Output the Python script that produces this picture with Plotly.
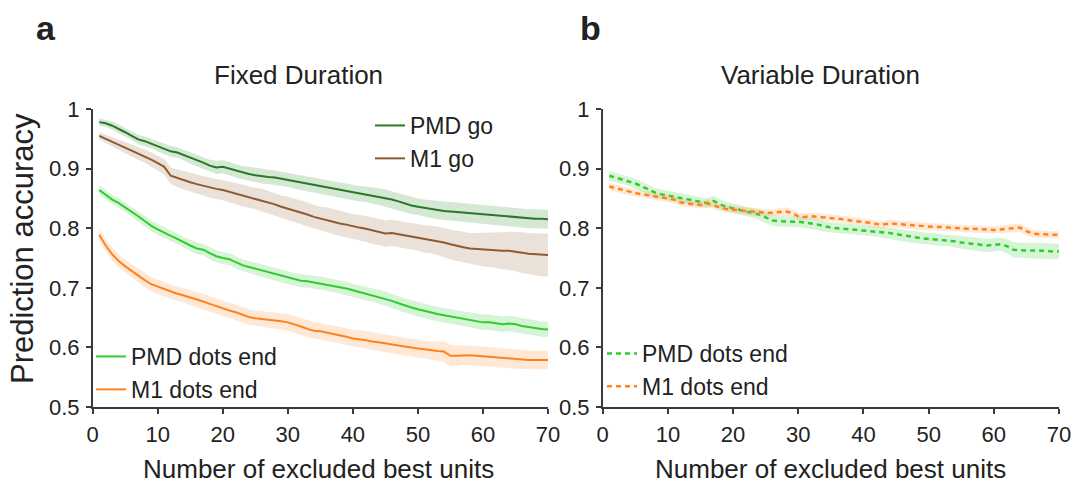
import plotly.graph_objects as go

W, H = 1074, 489

units = list(range(1, 71))

# ---- Panel a: Fixed Duration ----
pmd_go = [0.978,0.976,0.972,0.967,0.961,0.955,0.949,0.946,0.942,0.937,
          0.933,0.929,0.927,0.923,0.918,0.914,0.910,0.905,0.902,0.903,
          0.900,0.896,0.893,0.891,0.889,0.887,0.886,0.885,0.883,0.881,
          0.878,0.876,0.874,0.872,0.870,0.868,0.866,0.864,0.862,0.860,
          0.858,0.857,0.855,0.853,0.851,0.848,0.845,0.841,0.838,0.836,
          0.834,0.832,0.830,0.829,0.828,0.827,0.826,0.825,0.824,0.823,
          0.822,0.821,0.820,0.819,0.818,0.817,0.816,0.816,0.816,0.815]
pmd_go_err = [0.006,0.006,0.007,0.007,0.007,0.007,0.008,0.008,0.008,0.008,
              0.009,0.009,0.009,0.009,0.010,0.010,0.010,0.010,0.011,0.011,
              0.011,0.011,0.011,0.012,0.012,0.012,0.012,0.012,0.012,0.012,
              0.012,0.013,0.013,0.013,0.013,0.013,0.013,0.013,0.013,0.013,
              0.013,0.013,0.014,0.014,0.014,0.014,0.014,0.014,0.014,0.014,
              0.014,0.015,0.015,0.015,0.015,0.015,0.015,0.015,0.015,0.015,
              0.015,0.015,0.015,0.015,0.015,0.016,0.016,0.016,0.016,0.016]

m1_go = [0.955,0.950,0.945,0.940,0.935,0.930,0.926,0.921,0.915,0.909,
         0.903,0.888,0.884,0.880,0.877,0.874,0.871,0.868,0.866,0.864,
         0.861,0.858,0.855,0.852,0.850,0.847,0.843,0.840,0.836,0.833,
         0.830,0.827,0.823,0.819,0.816,0.814,0.811,0.808,0.806,0.803,
         0.801,0.799,0.796,0.793,0.791,0.792,0.790,0.788,0.786,0.784,
         0.782,0.781,0.779,0.776,0.773,0.770,0.768,0.766,0.765,0.764,
         0.764,0.763,0.762,0.762,0.761,0.759,0.757,0.756,0.755,0.755]
m1_go_err = [0.006,0.007,0.008,0.009,0.010,0.010,0.011,0.011,0.012,0.012,
             0.013,0.014,0.015,0.015,0.016,0.016,0.016,0.017,0.017,0.017,
             0.017,0.018,0.018,0.018,0.018,0.019,0.019,0.019,0.019,0.020,
             0.020,0.020,0.020,0.020,0.020,0.021,0.021,0.021,0.021,0.021,
             0.021,0.022,0.022,0.022,0.022,0.022,0.022,0.022,0.022,0.022,
             0.023,0.023,0.024,0.024,0.025,0.025,0.026,0.026,0.027,0.028,
             0.029,0.030,0.031,0.032,0.033,0.034,0.035,0.035,0.036,0.036]

pmd_dots = [0.864,0.856,0.848,0.842,0.835,0.827,0.820,0.812,0.804,0.798,
            0.792,0.787,0.782,0.776,0.771,0.766,0.764,0.758,0.753,0.750,
            0.748,0.743,0.738,0.735,0.732,0.729,0.726,0.723,0.720,0.717,
            0.714,0.712,0.711,0.709,0.708,0.706,0.704,0.701,0.699,0.696,
            0.693,0.690,0.688,0.685,0.682,0.678,0.674,0.670,0.667,0.664,
            0.661,0.659,0.656,0.654,0.652,0.650,0.648,0.646,0.644,0.642,
            0.642,0.641,0.639,0.640,0.639,0.636,0.634,0.633,0.631,0.630]
pmd_dots_err = [0.008,0.008,0.008,0.008,0.008,0.008,0.008,0.009,0.009,0.009,
                0.009,0.009,0.009,0.009,0.010,0.010,0.010,0.010,0.010,0.010,
                0.010,0.010,0.010,0.010,0.010,0.010,0.010,0.011,0.011,0.011,
                0.011,0.011,0.011,0.011,0.011,0.011,0.011,0.011,0.011,0.011,
                0.011,0.011,0.011,0.012,0.012,0.012,0.012,0.012,0.012,0.012,
                0.012,0.012,0.012,0.012,0.012,0.012,0.013,0.013,0.013,0.013,
                0.013,0.013,0.013,0.013,0.013,0.013,0.013,0.013,0.013,0.013]

m1_dots = [0.789,0.771,0.756,0.745,0.736,0.728,0.721,0.713,0.706,0.702,
           0.697,0.693,0.690,0.687,0.684,0.681,0.677,0.673,0.669,0.666,
           0.662,0.659,0.655,0.651,0.649,0.648,0.646,0.645,0.644,0.642,
           0.639,0.635,0.631,0.628,0.627,0.625,0.623,0.621,0.618,0.615,
           0.614,0.612,0.610,0.609,0.607,0.605,0.603,0.601,0.600,0.598,
           0.597,0.595,0.594,0.593,0.586,0.586,0.587,0.587,0.586,0.585,
           0.584,0.583,0.582,0.581,0.580,0.580,0.579,0.579,0.579,0.579]
m1_dots_err = [0.010,0.010,0.011,0.011,0.011,0.011,0.012,0.012,0.012,0.012,
               0.012,0.012,0.012,0.012,0.012,0.013,0.013,0.013,0.013,0.013,
               0.013,0.013,0.013,0.013,0.013,0.013,0.013,0.014,0.014,0.014,
               0.014,0.014,0.014,0.014,0.014,0.014,0.014,0.014,0.014,0.014,
               0.015,0.015,0.015,0.015,0.015,0.015,0.015,0.015,0.015,0.015,
               0.015,0.015,0.016,0.017,0.018,0.017,0.016,0.016,0.016,0.016,
               0.016,0.016,0.016,0.016,0.016,0.016,0.016,0.016,0.016,0.016]

# ---- Panel b: Variable Duration ----
pmd_dots_var = [0.888,0.885,0.882,0.879,0.875,0.870,0.865,0.860,0.857,0.855,
                0.852,0.850,0.848,0.846,0.844,0.842,0.846,0.840,0.836,0.834,
                0.831,0.828,0.826,0.823,0.818,0.813,0.812,0.811,0.811,0.811,
                0.810,0.808,0.806,0.803,0.801,0.800,0.799,0.798,0.797,0.797,
                0.796,0.795,0.794,0.792,0.790,0.788,0.786,0.785,0.783,0.782,
                0.781,0.780,0.780,0.778,0.776,0.775,0.774,0.772,0.771,0.772,
                0.773,0.770,0.764,0.763,0.763,0.762,0.762,0.762,0.761,0.761]
pmd_dots_var_err = [0.008,0.008,0.008,0.008,0.008,0.008,0.008,0.008,0.008,0.008,
                    0.008,0.008,0.008,0.008,0.008,0.008,0.009,0.008,0.008,0.008,
                    0.008,0.008,0.008,0.009,0.009,0.009,0.009,0.009,0.009,0.009,
                    0.009,0.009,0.009,0.009,0.009,0.009,0.009,0.009,0.009,0.009,
                    0.009,0.009,0.009,0.010,0.010,0.010,0.010,0.010,0.010,0.010,
                    0.010,0.010,0.010,0.010,0.011,0.011,0.011,0.011,0.011,0.011,
                    0.011,0.012,0.013,0.013,0.013,0.013,0.013,0.013,0.013,0.013]

m1_dots_var = [0.870,0.867,0.864,0.861,0.859,0.857,0.855,0.853,0.852,0.850,
               0.848,0.843,0.841,0.840,0.839,0.842,0.838,0.835,0.832,0.831,
               0.830,0.829,0.827,0.826,0.826,0.826,0.827,0.828,0.826,0.820,
               0.819,0.820,0.819,0.818,0.818,0.817,0.815,0.813,0.812,0.811,
               0.809,0.807,0.806,0.808,0.807,0.806,0.805,0.804,0.803,0.803,
               0.802,0.802,0.801,0.800,0.800,0.799,0.799,0.798,0.798,0.797,
               0.798,0.799,0.800,0.801,0.795,0.791,0.790,0.789,0.789,0.789]
m1_dots_var_err = [0.006,0.006,0.006,0.006,0.006,0.006,0.006,0.006,0.006,0.006,
                   0.006,0.006,0.006,0.006,0.006,0.007,0.006,0.006,0.006,0.006,
                   0.006,0.006,0.006,0.006,0.006,0.006,0.006,0.007,0.006,0.006,
                   0.006,0.006,0.006,0.006,0.006,0.006,0.006,0.006,0.006,0.006,
                   0.006,0.006,0.006,0.006,0.006,0.006,0.006,0.006,0.006,0.006,
                   0.006,0.006,0.006,0.006,0.006,0.006,0.006,0.006,0.006,0.006,
                   0.006,0.006,0.007,0.007,0.007,0.006,0.006,0.006,0.006,0.006]

x_ticks = [0, 10, 20, 30, 40, 50, 60, 70]
y_ticks = [0.5, 0.6, 0.7, 0.8, 0.9, 1.0]
y_tick_text = ["0.5", "0.6", "0.7", "0.8", "0.9", "1"]

C_PMD_GO = "rgb(40,120,40)"
C_M1_GO = "rgb(145,90,45)"
C_PMD_DOTS = "rgb(45,205,45)"
C_M1_DOTS = "rgb(255,130,30)"
F_PMD_GO = "rgba(60,150,60,0.22)"
F_M1_GO = "rgba(150,105,65,0.2)"
F_PMD_DOTS = "rgba(70,210,70,0.22)"
F_M1_DOTS = "rgba(255,150,70,0.22)"

FONT = "Liberation Sans, Arial, Helvetica, sans-serif"

fig = go.Figure()


def add_series(name, y, err, color, fill, xa, ya, legend, dash="solid", width=2):
    upper = [v + e for v, e in zip(y, err)]
    lower = [v - e for v, e in zip(y, err)]
    fig.add_trace(go.Scatter(
        x=units + units[::-1], y=upper + lower[::-1], fill="toself",
        fillcolor=fill, line=dict(width=0), mode="lines",
        hoverinfo="skip", showlegend=False, xaxis=xa, yaxis=ya))
    fig.add_trace(go.Scatter(
        x=units, y=y, mode="lines", name=name,
        line=dict(color=color, width=width, dash=dash),
        xaxis=xa, yaxis=ya, legend=legend, legendgroup=name + xa))


add_series("PMD go", pmd_go, pmd_go_err, C_PMD_GO, F_PMD_GO, "x", "y", "legend")
add_series("M1 go", m1_go, m1_go_err, C_M1_GO, F_M1_GO, "x", "y", "legend")
add_series("PMD dots end", pmd_dots, pmd_dots_err, C_PMD_DOTS, F_PMD_DOTS, "x", "y", "legend2")
add_series("M1 dots end", m1_dots, m1_dots_err, C_M1_DOTS, F_M1_DOTS, "x", "y", "legend2")
add_series("PMD dots end", pmd_dots_var, pmd_dots_var_err, C_PMD_DOTS, F_PMD_DOTS, "x2", "y2", "legend3", dash="5px,4px", width=2.5)
add_series("M1 dots end", m1_dots_var, m1_dots_var_err, C_M1_DOTS, F_M1_DOTS, "x2", "y2", "legend3", dash="5px,4px", width=2.5)

def px(x):
    return x / W

def py(y):
    return 1 - y / H

ydom = [py(407), py(109)]
axis_common = dict(
    showline=True, linecolor="#3a3a3a", linewidth=1.5,
    ticks="outside", ticklen=5, tickwidth=1.5, tickcolor="#3a3a3a",
    showgrid=False, zeroline=False, automargin=False,
    tickfont=dict(family=FONT, size=22, color="#222"),
)

LEG_FONT = dict(family=FONT, size=23, color="#222")

fig.update_layout(
    width=W, height=H,
    margin=dict(l=0, r=0, t=0, b=0, pad=0),
    paper_bgcolor="white", plot_bgcolor="white",
    font=dict(family=FONT, color="#222"),
    xaxis=dict(domain=[px(92.7), px(548)], range=[0, 70], tickvals=x_ticks,
               anchor="y", ticklabelstandoff=2, **axis_common),
    yaxis=dict(domain=ydom, range=[0.5, 1.0], tickvals=y_ticks, ticktext=y_tick_text,
               anchor="x", ticklabelstandoff=2, **axis_common),
    xaxis2=dict(domain=[px(602.7), px(1059)], range=[0, 70], tickvals=x_ticks,
                anchor="y2", ticklabelstandoff=2, **axis_common),
    yaxis2=dict(domain=ydom, range=[0.5, 1.0], tickvals=y_ticks, ticktext=y_tick_text,
                anchor="x2", ticklabelstandoff=2, **axis_common),
    legend=dict(x=px(370), y=py(104), xanchor="left", yanchor="top",
                bgcolor="rgba(0,0,0,0)", font=LEG_FONT,
                tracegroupgap=0, itemwidth=30),
    legend2=dict(x=px(91), y=py(335), xanchor="left", yanchor="top",
                 bgcolor="rgba(0,0,0,0)", font=LEG_FONT,
                 tracegroupgap=0, itemwidth=30),
    legend3=dict(x=px(602), y=py(332), xanchor="left", yanchor="top",
                 bgcolor="rgba(0,0,0,0)", font=LEG_FONT,
                 tracegroupgap=0, itemwidth=30),
    showlegend=True,
)

annos = [
    dict(text="<b>a</b>", x=px(46), y=py(28), size=34),
    dict(text="<b>b</b>", x=px(590), y=py(28), size=34),
    dict(text="Fixed Duration", x=px(298), y=py(75), size=26),
    dict(text="Variable Duration", x=px(820), y=py(75), size=26),
    dict(text="Number of excluded best units", x=px(318), y=py(469), size=26),
    dict(text="Number of excluded best units", x=px(830), y=py(469), size=26),
]
for a in annos:
    fig.add_annotation(text=a["text"], x=a["x"], y=a["y"], xref="paper", yref="paper",
                       showarrow=False, xanchor="center", yanchor="middle",
                       font=dict(family=FONT, size=a["size"], color="#222"))
fig.add_annotation(text="Prediction accuracy", x=px(23), y=py(249), xref="paper", yref="paper",
                   showarrow=False, textangle=-90, xanchor="center", yanchor="middle",
                   font=dict(family=FONT, size=31, color="#222"))

# remove the default 8px page margin so the figure fills the window exactly
fig.write_html("out.html",
               config={"displayModeBar": False},
               post_script="document.body.style.margin='0';document.body.style.overflow='hidden';")
